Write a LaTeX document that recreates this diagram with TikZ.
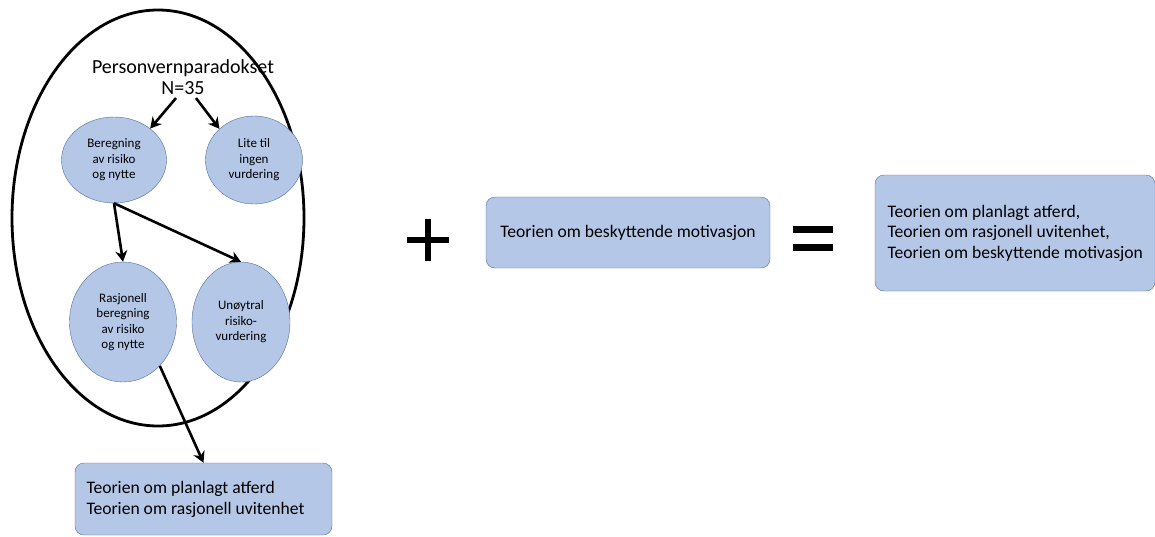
\documentclass[tikz,border=0pt]{standalone}
\usepackage{fontspec}
\setmainfont{Carlito}
\usetikzlibrary{shapes.geometric,arrows.meta}

\definecolor{boxfill}{HTML}{B4C7E7}
\definecolor{boxline}{HTML}{4F6F9A}

\tikzset{
  oval/.style={ellipse, draw=boxline, fill=boxfill, inner sep=0pt, align=center, font=\fontsize{13}{15.5}\selectfont},
  theorybox/.style={draw=boxline, fill=boxfill, rounded corners=9pt, inner sep=0pt},
  flow/.style={line width=2.6pt, -{Stealth[length=11pt,width=12pt]}}
}

\begin{document}
\begin{tikzpicture}[x=1pt, y=-1pt]
        % Fix the page to the reference size
        \useasboundingbox (0,0) rectangle (1155,536);

        % The big ellipse round the paradox
        \draw[line width=2.8pt] (158,218) ellipse [x radius=146, y radius=208];
        \node[align=center, font=\fontsize{20}{21}\selectfont] (title) at (183,77) {Personvernparadokset\\N=35};

        % The four ovals
        \node[oval, minimum width=105pt, minimum height=86pt] (ber) at (114,160) {Beregning\\av risiko\\og nytte};
        \node[oval, minimum width=97pt, minimum height=88pt] (lite) at (254,160) {Lite til\\ingen\\vurdering};
        \node[oval, minimum width=107pt, minimum height=120pt] (ras) at (123,322) {Rasjonell\\beregning\\av risiko\\og nytte};
        \node[oval, minimum width=98pt, minimum height=120pt] (unoy) at (241,322) {Unøytral\\risiko-\\vurdering};

        % Theory boxes
        \node[theorybox, minimum width=257pt, minimum height=72pt] (tb1) at (203.5,499) {};
        \node[anchor=west, align=left, font=\fontsize{17.6}{21}\selectfont] (tb1txt) at (83,499) {Teorien om planlagt atferd\\Teorien om rasjonell uvitenhet};
        \node[theorybox, minimum width=284pt, minimum height=71pt, font=\fontsize{17.6}{20}\selectfont] (tb2) at (628,232.5) {Teorien om beskyttende motivasjon};
        \node[theorybox, minimum width=280pt, minimum height=116pt] (tb3) at (1015,233) {};
        \node[anchor=west, align=left, font=\fontsize{17.6}{20.5}\selectfont] (tb3txt) at (884,233) {Teorien om planlagt atferd,\\Teorien om rasjonell uvitenhet,\\Teorien om beskyttende motivasjon};

        % Arrows
        \draw[flow] ([xshift=-7pt]title.south) -- (ber.41);
        \draw[flow] ([xshift=13pt]title.south) -- (lite.138);
        \draw[flow] (ber.south) -- (ras.north);
        \draw[flow] (ber.south) -- (unoy.north);
        \draw[flow] (ras.-50) -- (tb1.north);

        % Plus and equals signs
        \draw[line width=6pt] (407,240) -- (449,240) (428,219) -- (428,261);
        \draw[line width=7pt] (793,229) -- (833,229) (793,247) -- (833,247);
    \end{tikzpicture}
\end{document}
